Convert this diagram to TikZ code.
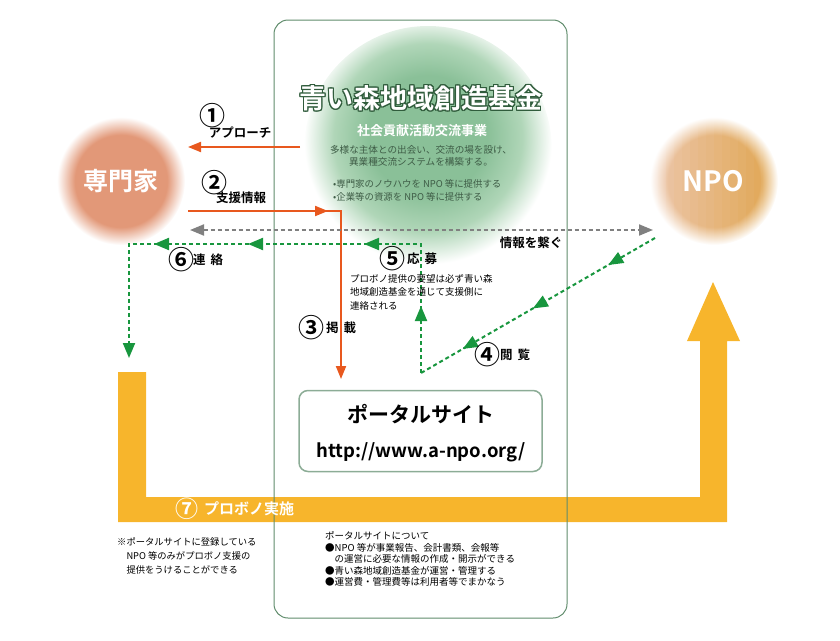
\documentclass[tikz,border=0pt]{standalone}
\usepackage{fontspec}
\setmainfont{Noto Sans CJK JP}[BoldFont={Noto Sans CJK JP Bold}]
\usepackage[copies]{contour}
\usetikzlibrary{positioning,arrows.meta,decorations.markings}

\definecolor{frameg}{RGB}{96,140,108}
\definecolor{boxg}{RGB}{140,172,150}
\definecolor{glowtop}{RGB}{138,192,152}
\definecolor{glowmid}{RGB}{176,214,184}
\definecolor{titleg}{RGB}{48,92,60}
\definecolor{textg}{RGB}{62,92,70}
\definecolor{expC}{RGB}{226,152,120}
\definecolor{npoL}{RGB}{236,198,170}
\definecolor{npoR}{RGB}{224,166,82}
\definecolor{linkor}{RGB}{232,88,30}
\definecolor{linkgr}{RGB}{24,150,62}
\definecolor{linkgy}{RGB}{128,128,128}
\definecolor{bandor}{RGB}{247,181,44}

\pgfdeclareradialshading{fundglow}{\pgfpoint{0bp}{4bp}}{color(0bp)=(glowtop); color(12bp)=(glowtop); color(19bp)=(glowmid); color(25bp)=(white); color(50bp)=(white)}
\pgfdeclareradialshading{expglow}{\pgfpoint{0bp}{0bp}}{color(0bp)=(expC); color(18bp)=(expC); color(25bp)=(white); color(50bp)=(white)}

\contourlength{1.4pt}
\contournumber{12}

\begin{document}
\begin{tikzpicture}[x=1pt, y=-1pt,
  numlbl/.style={inner sep=0pt, font=\bfseries\fontsize{26}{26}\selectfont},
  steplbl/.style={inner sep=0pt, font=\bfseries\fontsize{12.5}{12.5}\selectfont},
  small/.style={inner sep=0pt, align=left, anchor=west, font=\fontsize{9.5}{13}\selectfont},
  orline/.style={draw=linkor, line width=2pt},
  ortip/.style={-{Triangle[length=13pt,width=10pt]}},
  grdash/.style={draw=linkgr, line width=2pt, dash pattern=on 4pt off 3pt},
  grtip/.style={-{Triangle[length=15pt,width=12pt]}},
  gytip/.style={{Triangle[length=14pt,width=11pt]}-{Triangle[length=14pt,width=11pt]}}
]
\useasboundingbox (0,0) rectangle (840,640);

% probono band (7)
\fill[bandor] (118,372) -- (146,372) -- (146,497) -- (700,497) -- (700,341)
  -- (687,341) -- (713,282) -- (740,341) -- (727,341) -- (727,522) -- (118,522) -- cycle;

% fund frame and glow
\node[draw=frameg, line width=1pt, rounded corners=14pt, minimum width=293pt, minimum height=598pt] (fund) at (420.5,319) {};
\shade[shading=fundglow] (428,150) circle[radius=124pt];

% actors
\shade[shading=expglow] (121,181) circle[radius=64pt];
\foreach \k in {0,...,15} {
  \pgfmathsetmacro\xl{650+8*\k}
  \pgfmathtruncatemacro\p{100*\k/15}
  \colorlet{npoK}{npoR!\p!npoL}
  \pgfdeclareradialshading{npoglow\k}{\pgfpoint{0bp}{0bp}}{color(0bp)=(npoK); color(18bp)=(npoK); color(25bp)=(white); color(50bp)=(white)}
  \begin{scope}
    \clip (\xl,110) rectangle (\xl+8.6,252);
    \shade[shading=npoglow\k] (714,181) circle[radius=64pt];
  \end{scope}
}
\node[inner sep=0pt, text=white, font=\bfseries\fontsize{25}{25}\selectfont] (expert) at (121,181) {専門家};
\node[inner sep=0pt, text=white, font=\bfseries\fontsize{28}{28}\selectfont] (npo) at (713,181) {NPO};

% fund texts
\node[inner sep=0pt, text=white, font=\bfseries\fontsize{27}{27}\selectfont] (title) at (421,99) {\contour{titleg}{青い森地域創造基金}};
\node[inner sep=0pt, text=white, font=\bfseries\fontsize{13}{13}\selectfont] (subtitle) at (422,131) {社会貢献活動交流事業};
\node[inner sep=0pt, align=center, text=textg, font=\fontsize{9.6}{12.5}\selectfont] (desc) at (421,156)
  {多様な主体との出会い、交流の場を設け、\\異業種交流システムを構築する。};
\node[small, text=textg, font=\fontsize{9.4}{13}\selectfont] (aims) at (333,190)
  {•専門家のノウハウを NPO 等に提供する\\•企業等の資源を NPO 等に提供する};

% portal
\node[draw=boxg, line width=1.5pt, rounded corners=9pt, minimum width=243pt, minimum height=81pt] (portal) at (420.5,431) {};
\node[inner sep=0pt, font=\bfseries\fontsize{21}{21}\selectfont] (ptitle) at (421,414) {ポータルサイト};
\node[inner sep=0pt, font=\bfseries\fontsize{18.5}{18.5}\selectfont] (purl) at (421,452) {http://www.a-npo.org/};

% end points
\coordinate (a1s) at (300,147);
\coordinate (a1e) at (188,147);
\coordinate (a2s) at (188,211);
\coordinate (a2k) at (341,211);
\coordinate (a3e) at (341,379);
\coordinate (gyl) at (190,230);
\coordinate (gyr) at (653,230);
\coordinate (g4s) at (655,238);
\coordinate (g4e) at (421,373);
\coordinate (g5k) at (421,244);
\coordinate (g6k) at (129,244);
\coordinate (g6e) at (129,358);

% connectors
\draw[orline, ortip] (a1s) -- (a1e);
\draw[orline, ortip, decoration={markings,
    mark=at position 140pt with {\arrow{Triangle[length=13pt,width=10pt]}}},
  postaction={decorate}] (a2s) -- (a2k) -- (a3e);
\draw[draw=linkgy, line width=2pt, dash pattern=on 4pt off 3pt, gytip] (gyl) -- (gyr);
\draw[grdash, decoration={markings,
    mark=at position 54pt with {\arrow{Triangle[length=15pt,width=12pt]}},
    mark=at position 141pt with {\arrow{Triangle[length=15pt,width=12pt]}},
    mark=at position 222pt with {\arrow{Triangle[length=15pt,width=12pt]}}},
  postaction={decorate}] (g4s) -- (g4e);
\draw[grdash, grtip, decoration={markings,
    mark=at position 67pt with {\arrow{Triangle[length=15pt,width=12pt]}},
    mark=at position 186pt with {\arrow{Triangle[length=15pt,width=12pt]}},
    mark=at position 302pt with {\arrow{Triangle[length=15pt,width=12pt]}},
    mark=at position 396pt with {\arrow{Triangle[length=15pt,width=12pt]}}},
  postaction={decorate}] (g4e) -- (g5k) -- (g6k) -- (g6e);

% step labels
\node[numlbl] (n1) at (212,116) {①};
\node[steplbl] (s1) at (240,133) {アプローチ};
\node[numlbl] (n2) at (214,183) {②};
\node[steplbl] (s2) at (241,198) {支援情報};
\node[numlbl] (n3) at (311,328) {③};
\node[steplbl] (s3) at (341,328) {掲\hspace{5pt}載};
\node[numlbl] (n4) at (487,355) {④};
\node[steplbl] (s4) at (515,355) {閲\hspace{5pt}覧};
\node[numlbl] (n5) at (392,259) {⑤};
\node[steplbl] (s5) at (422,259) {応\hspace{5pt}募};
\node[numlbl] (n6) at (181,260) {⑥};
\node[steplbl] (s6) at (208,260) {連\hspace{5pt}絡};
\node[steplbl] (link) at (531,243) {情報を繋ぐ};
\node[numlbl, text=white, font=\bfseries\fontsize{23}{23}\selectfont] (n7) at (187,509) {⑦};
\node[inner sep=0pt, text=white, font=\bfseries\fontsize{15}{15}\selectfont] (s7) at (249,509) {プロボノ実施};

% notes
\node[small, font=\fontsize{9.5}{13.5}\selectfont] (request) at (350,292)
  {プロボノ提供の要望は必ず青い森\\地域創造基金を通じて支援側に\\連絡される};
\node[small, font=\fontsize{9.3}{14}\selectfont] (onlynpo) at (117,556)
  {※ポータルサイトに登録している\\　NPO 等のみがプロボノ支援の\\　提供をうけることができる};
\node[small, font=\fontsize{9.5}{11.4}\selectfont] (about) at (325,559)
  {ポータルサイトについて\\●NPO 等が事業報告、会計書類、会報等\\　の運営に必要な情報の作成・開示ができる\\●青い森地域創造基金が運営・管理する\\●運営費・管理費等は利用者等でまかなう};
\end{tikzpicture}
\end{document}
